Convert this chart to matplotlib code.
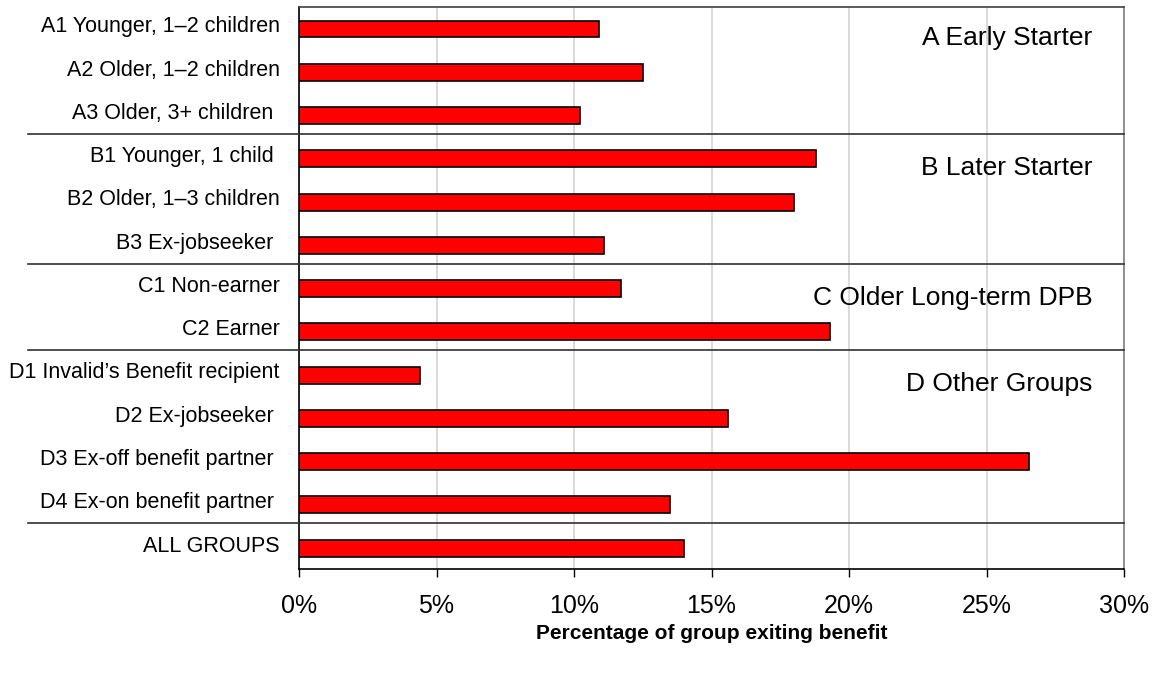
import numpy as np
import matplotlib
matplotlib.use("Agg")
import matplotlib.pyplot as plt
from matplotlib.ticker import FuncFormatter
from matplotlib.transforms import blended_transform_factory, ScaledTranslation

plt.rcParams['font.family'] = ['Liberation Sans', 'DejaVu Sans']

# Data
labels = ['A1 Younger, 1\u20132 children', 'A2 Older, 1\u20132 children', 'A3 Older, 3+ children ',
          'B1 Younger, 1 child ', 'B2 Older, 1\u20133 children', 'B3 Ex-jobseeker ',
          'C1 Non-earner', 'C2 Earner',
          'D1 Invalid\u2019s Benefit recipient', 'D2 Ex-jobseeker ',
          'D3 Ex-off benefit partner ', 'D4 Ex-on benefit partner ',
          'ALL GROUPS']
values = [10.9, 12.5, 10.2, 18.8, 18.0, 11.1, 11.7, 19.3, 4.4, 15.6, 26.55, 13.5, 14.0]
groups = ['A Early Starter', 'B Later Starter', 'C Older Long-term DPB', 'D Other Groups']
group_sizes = [3, 3, 2, 4]

fig = plt.figure(figsize=(11.57, 6.73), dpi=100)
ax = fig.add_axes([299/1157, 1 - 569.3/673, 825/1157, 562.3/673])

y = np.arange(len(labels))
ax.barh(y + 0.01, values, height=0.39, color='#ff0000', edgecolor='black',
        linewidth=1.2, zorder=3)

ax.set_ylim(len(labels) - 0.5, -0.5)
ax.set_xlim(0, 30)
ax.set_xticks(np.arange(0, 31, 5))
ax.xaxis.set_major_formatter(FuncFormatter(lambda v, p: f'{v:.0f}%'))
ax.tick_params(axis='x', labelsize=18, length=6, width=1, pad=12, direction='out')
ax.set_yticks(y)
ax.set_yticklabels(labels, fontsize=15.5)
ax.tick_params(axis='y', length=0, pad=14)
shift = ScaledTranslation(0, 3/72, fig.dpi_scale_trans)
for t in ax.get_yticklabels():
    t.set_transform(t.get_transform() + shift)

ax.grid(axis='x', color='#d4d4d4', linewidth=1.2, zorder=0)
ax.set_axisbelow(True)

ax.spines['top'].set_color('#404040')
ax.spines['right'].set_color('#808080')
ax.spines['left'].set_color('black')
ax.spines['bottom'].set_color('black')
for s in ax.spines.values():
    s.set_linewidth(1.2)

ax.set_xlabel('Percentage of group exiting benefit', fontsize=15, fontweight='bold', labelpad=4)

# separators and group names
trans = blended_transform_factory(ax.transAxes, ax.transData)
start = 0
x0 = (28 - 299) / 825
for name, n in zip(groups, group_sizes):
    ax.text(0.962, start - 0.5 + 0.72, name, transform=trans, ha='right', va='center',
            fontsize=19)
    start += n
    sep = start - 0.5 - 0.06
    ax.plot([x0, 1], [sep, sep], transform=trans, color='#303030', linewidth=1.2,
            clip_on=False, zorder=4)

fig.savefig('out.png', dpi=100)
